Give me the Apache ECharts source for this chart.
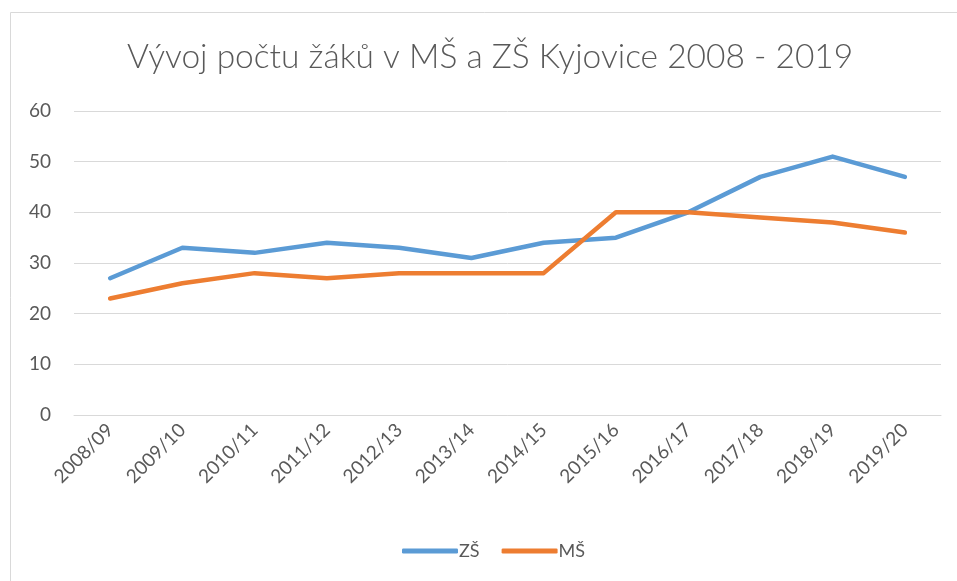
<!DOCTYPE html>
<html>
<head>
<meta charset="utf-8">
<script src="https://cdn.jsdelivr.net/npm/echarts@6/dist/echarts.min.js"></script>
<style>
  html, body { margin: 0; padding: 0; background: #fff; }
  #chart { width: 957px; height: 581px; }
</style>
</head>
<body>
<div id="chart"></div>
<script>
const years = ['2008/09', '2009/10', '2010/11', '2011/12', '2012/13', '2013/14',
  '2014/15', '2015/16', '2016/17', '2017/18', '2018/19', '2019/20'];
const zs = [27, 33, 32, 34, 33, 31, 34, 35, 40, 47, 51, 47];
const ms = [23, 26, 28, 27, 28, 28, 28, 40, 40, 39, 38, 36];

const font = 'Lato, "Open Sans", sans-serif';
const chart = echarts.init(document.getElementById('chart'));

chart.setOption({
  animation: false,
  color: ['#5B9BD5', '#ED7D31'],
  graphic: [{
    // outer chart frame (right and bottom edges fall outside the picture)
    type: 'rect',
    shape: { x: 10.5, y: 12.5, width: 960, height: 600 },
    style: { fill: 'none', stroke: '#D9D9D9', lineWidth: 1 },
    silent: true,
  }],
  title: {
    text: 'Vývoj počtu žáků v MŠ a ZŠ Kyjovice 2008 - 2019',
    left: 122,
    top: 35,
    textStyle: { fontFamily: font, fontWeight: 300, fontSize: 33.5, color: '#595959' },
  },
  legend: {
    bottom: 16,
    left: 397,
    itemWidth: 56,
    itemHeight: 5,
    itemGap: 22,
    icon: 'roundRect',
    textStyle: { fontFamily: font, fontSize: 18, color: '#595959', padding: [0, 0, 0, -4] },
    data: ['ZŠ', 'MŠ'],
  },
  grid: { left: 74, right: 16, top: 111, bottom: 166, containLabel: false },
  xAxis: {
    type: 'category',
    data: years,
    boundaryGap: true,
    axisLine: { lineStyle: { color: '#D9D9D9', width: 1 } },
    axisTick: { show: false },
    axisLabel: {
      rotate: 45,
      interval: 0,
      margin: 12,
      fontFamily: font,
      fontSize: 19,
      color: '#595959',
    },
  },
  yAxis: {
    type: 'value',
    min: 0,
    max: 60,
    interval: 10,
    axisLine: { show: false },
    axisTick: { show: false },
    splitLine: { lineStyle: { color: '#D9D9D9', width: 1 } },
    axisLabel: { fontFamily: font, fontSize: 19, color: '#595959', margin: 23 },
  },
  series: [
    {
      name: 'ZŠ',
      type: 'line',
      data: zs,
      symbol: 'none',
      lineStyle: { width: 4.5, cap: 'round', join: 'round' },
    },
    {
      name: 'MŠ',
      type: 'line',
      data: ms,
      symbol: 'none',
      lineStyle: { width: 4.5, cap: 'round', join: 'round' },
    },
  ],
});
</script>
</body>
</html>
